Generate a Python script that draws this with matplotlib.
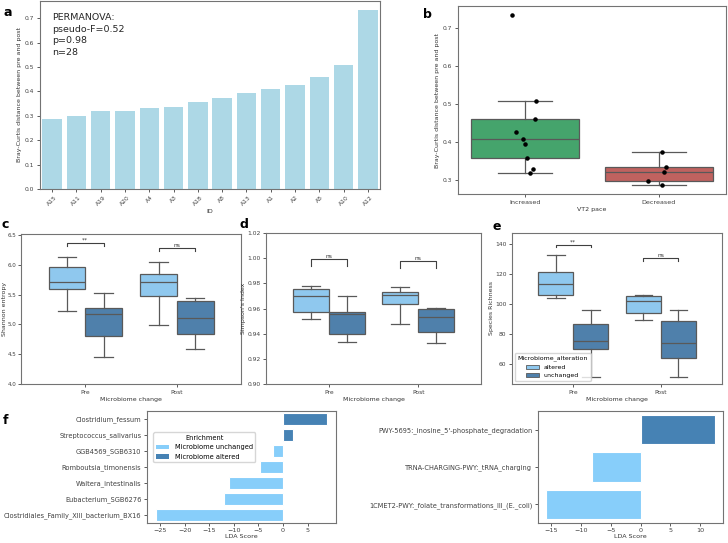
import matplotlib
matplotlib.use("Agg")
import matplotlib.pyplot as plt
import numpy as np
from matplotlib.patches import Patch

# --- a: Bray-Curtis distance per participant ---
ids = ['A15', 'A11', 'A19', 'A20', 'A4', 'A3', 'A18', 'A8', 'A13', 'A1', 'A2', 'A5', 'A10', 'A12']
bc_dist = [0.287, 0.299, 0.319, 0.321, 0.331, 0.336, 0.358, 0.374, 0.395, 0.409, 0.428, 0.461, 0.509, 0.734]
permanova_txt = "PERMANOVA:\npseudo-F=0.52\np=0.98\nn=28"

# --- b: distance by VT2 pace ---
pace_groups = ['Increased', 'Decreased']
increased = [0.734, 0.509, 0.461, 0.428, 0.409, 0.395, 0.358, 0.331, 0.319]
decreased = [0.374, 0.336, 0.321, 0.299, 0.287]
# horizontal jitter
increased_jit = [-0.095, 0.085, 0.073, -0.07, -0.013, -0.003, 0.015, 0.06, 0.035]
decreased_jit = [0.025, 0.055, 0.038, -0.08, 0.02]

# --- c/d/e: alpha diversity box summaries, order: Pre-altered, Pre-unchanged, Post-altered, Post-unchanged ---
times = ['Pre', 'Post']
hues = ['altered', 'unchanged']
shannon_lo = [5.23, 4.45, 4.99, 4.59]
shannon_q1 = [5.59, 4.80, 5.48, 4.84]
shannon_med = [5.72, 5.18, 5.72, 5.11]
shannon_q3 = [5.97, 5.27, 5.84, 5.39]
shannon_hi = [6.13, 5.53, 6.05, 5.44]
shannon_brk = [6.37, 6.29]
shannon_sig = ['**', 'ns']

simpson_lo = [0.9519, 0.9335, 0.9479, 0.9327]
simpson_q1 = [0.9575, 0.9399, 0.9633, 0.9410]
simpson_med = [0.9700, 0.9553, 0.9705, 0.9535]
simpson_q3 = [0.9756, 0.9575, 0.9734, 0.9596]
simpson_hi = [0.9782, 0.9697, 0.9769, 0.9601]
simpson_brk = [0.999, 0.9974]
simpson_sig = ['ns', 'ns']

rich_lo = [104.0, 51.4, 89.2, 51.4]
rich_q1 = [106.0, 70.2, 94.3, 64.0]
rich_med = [113.0, 75.3, 102.3, 74.0]
rich_q3 = [121.5, 86.8, 105.0, 89.0]
rich_hi = [132.5, 96.0, 106.0, 96.0]
rich_brk = [139.6, 130.5]
rich_sig = ['**', 'ns']

# --- f: LEfSe LDA scores ---
species = ['Clostridium_fessum', 'Streptococcus_salivarius', 'GGB4569_SGB6310', 'Romboutsia_timonensis',
           'Waltera_intestinalis', 'Eubacterium_SGB6276', 'Clostridiales_Family_XIII_bacterium_BX16']
species_lda = [9.0, 2.1, -2.0, -4.6, -11.0, -12.0, -25.9]
pathways = ["PWY-5695:_inosine_5'-phosphate_degradation", 'TRNA-CHARGING-PWY:_tRNA_charging',
            '1CMET2-PWY:_folate_transformations_III_(E._coli)']
pathway_lda = [12.4, -8.2, -15.8]

C_LIGHT = '#8fc8ee'
C_DARK = '#4f80ab'
C_ALT = '#4682B4'
C_UNCH = '#87CEFA'
LINE = '0.35'

plt.rcParams.update({
    'font.size': 4.5,
    'axes.edgecolor': '0.45',
    'axes.linewidth': 0.8,
    'xtick.major.size': 2,
    'ytick.major.size': 2,
    'xtick.major.width': 0.6,
    'ytick.major.width': 0.6,
    'xtick.major.pad': 2,
    'ytick.major.pad': 2,
    'xtick.color': '0.25',
    'ytick.color': '0.25',
    'xtick.labelsize': 4.3,
    'ytick.labelsize': 4.3,
    'axes.labelsize': 4.5,
    'axes.labelpad': 2,
    'axes.labelcolor': '0.2',
})

fig = plt.figure(figsize=(7.28, 5.43), dpi=100)


def add_ax(l, r, t, b):
    W, H = 728, 543
    return fig.add_axes([l / W, 1 - b / H, (r - l) / W, (b - t) / H])


# a
ax = add_ax(40, 380, 1, 189)
ax.bar(range(len(ids)), bc_dist, width=0.8, color='#add8e6')
ax.set_xticks(range(len(ids)))
ax.set_xticklabels(ids, rotation=45)
ax.set_xlim(-0.5, len(ids) - 0.5)
ax.set_xlabel('ID')
ax.set_ylabel('Bray-Curtis distance between pre and post')
ax.text(0.035, 0.935, permanova_txt, transform=ax.transAxes, va='top', ha='left',
        fontsize=6.8, linespacing=1.35, color='0.15')

# b
ax = add_ax(458, 726, 6, 194)
bp = ax.boxplot([increased, decreased], positions=[0, 1], widths=0.8, patch_artist=True,
                showfliers=False, medianprops=dict(color=LINE, lw=0.9),
                whiskerprops=dict(color=LINE, lw=0.9), capprops=dict(color=LINE, lw=0.9),
                boxprops=dict(edgecolor=LINE, lw=0.9))
for patch, col in zip(bp['boxes'], ['#45a46c', '#c0625f']):
    patch.set_facecolor(col)
ax.scatter(np.array(increased_jit), increased, s=5, color='k', zorder=3)
ax.scatter(1 + np.array(decreased_jit), decreased, s=5, color='k', zorder=3)
ax.set_xticks([0, 1])
ax.set_xticklabels(pace_groups, fontsize=4.6)
ax.set_xlim(-0.5, 1.5)
ax.set_xlabel('VT2 pace')
ax.set_ylabel('Bray-Curtis distance between pre and post')


def alpha_panel(ax, lo, q1, med, q3, hi, brk, sig, ylim, ylabel, tip):
    stats = []
    pos = []
    cols = []
    for i in range(4):
        stats.append(dict(whislo=lo[i], q1=q1[i], med=med[i], q3=q3[i], whishi=hi[i]))
        pos.append(i // 2 + (-0.2 if i % 2 == 0 else 0.2))
        cols.append(C_LIGHT if i % 2 == 0 else C_DARK)
    bp = ax.bxp(stats, positions=pos, widths=0.4, patch_artist=True, showfliers=False,
                medianprops=dict(color=LINE, lw=0.9), whiskerprops=dict(color=LINE, lw=0.9),
                capprops=dict(color=LINE, lw=0.9), boxprops=dict(edgecolor=LINE, lw=0.9))
    for patch, col in zip(bp['boxes'], cols):
        patch.set_facecolor(col)
    for j in range(2):
        x0, x1 = j - 0.2, j + 0.2
        y = brk[j]
        ax.plot([x0, x0, x1, x1], [y - tip, y, y, y - tip], color='0.25', lw=0.8)
        ax.text(j, y, sig[j], ha='center', va='bottom', fontsize=4.3, color='0.2')
    ax.set_xticks([0, 1])
    ax.set_xticklabels(times)
    ax.set_xlim(-0.7, 1.7)
    ax.set_ylim(*ylim)
    ax.set_xlabel('Microbiome change')
    ax.set_ylabel(ylabel, labelpad=1)


ax_c = add_ax(21, 241, 234, 384)
alpha_panel(ax_c, shannon_lo, shannon_q1, shannon_med, shannon_q3, shannon_hi,
            shannon_brk, shannon_sig, (4.0, 6.52), 'Shannon entropy', 0.05)
ax_c.tick_params(axis='y', pad=1.2, labelsize=4.1)
ax_c.yaxis.labelpad = 0.3
ax_d = add_ax(266, 481, 233, 384)
alpha_panel(ax_d, simpson_lo, simpson_q1, simpson_med, simpson_q3, simpson_hi,
            simpson_brk, simpson_sig, (0.90, 1.02), "Simpson's Index", 0.005)
ax_e = add_ax(512, 722, 233, 384)
alpha_panel(ax_e, rich_lo, rich_q1, rich_med, rich_q3, rich_hi,
            rich_brk, rich_sig, (46.7, 147.3), 'Species Richness', 1.8)
ax_e.legend(handles=[Patch(facecolor=C_LIGHT, edgecolor=LINE, lw=0.6, label=hues[0]),
                     Patch(facecolor=C_DARK, edgecolor=LINE, lw=0.6, label=hues[1])],
            title='Microbiome_alteration', loc='lower left', fontsize=4.5, title_fontsize=4.5,
            frameon=True, edgecolor='0.8')

# f left
ax = add_ax(147, 336, 411, 523)
yp = np.arange(len(species))
ax.barh(yp, species_lda, height=0.8, color=[C_ALT if v > 0 else C_UNCH for v in species_lda],
        edgecolor='white', lw=0.8)
ax.set_yticks(yp)
ax.set_yticklabels(species, fontsize=4.8)
ax.set_ylim(len(species) - 0.5, -0.5)
ax.set_xticks([-25, -20, -15, -10, -5, 0, 5])
ax.tick_params(axis='x', labelsize=4.6, pad=1.5)
ax.set_xlabel('LDA Score', fontsize=4.6, labelpad=0.5)
ax.legend(handles=[Patch(facecolor=C_UNCH, label='Microbiome unchanged'),
                   Patch(facecolor=C_ALT, label='Microbiome altered')],
          title='Enrichment', loc='upper left', bbox_to_anchor=(0.015, 0.84),
          fontsize=4.8, title_fontsize=4.8, edgecolor='0.8')

# f right
ax = add_ax(538, 723, 411, 523)
yp = np.arange(len(pathways))
ax.barh(yp, pathway_lda, height=0.78, color=[C_ALT if v > 0 else C_UNCH for v in pathway_lda],
        edgecolor='white', lw=0.8)
ax.set_yticks(yp)
ax.set_yticklabels(pathways, fontsize=4.8)
ax.set_ylim(len(pathways) - 0.5, -0.5)
ax.set_xticks([-15, -10, -5, 0, 5, 10])
ax.tick_params(axis='x', labelsize=4.6, pad=1.5)
ax.set_xlabel('LDA Score', fontsize=4.6, labelpad=0.5)

# panel letters
for letter, (px, py) in zip('abcdef', [(3, 13), (423, 14), (1, 225), (239, 225), (492, 226), (3, 420)]):
    fig.text(px / 728, 1 - py / 543, letter, fontsize=9, fontweight='bold', ha='left', va='center')

fig.savefig('out.png', dpi=100)
